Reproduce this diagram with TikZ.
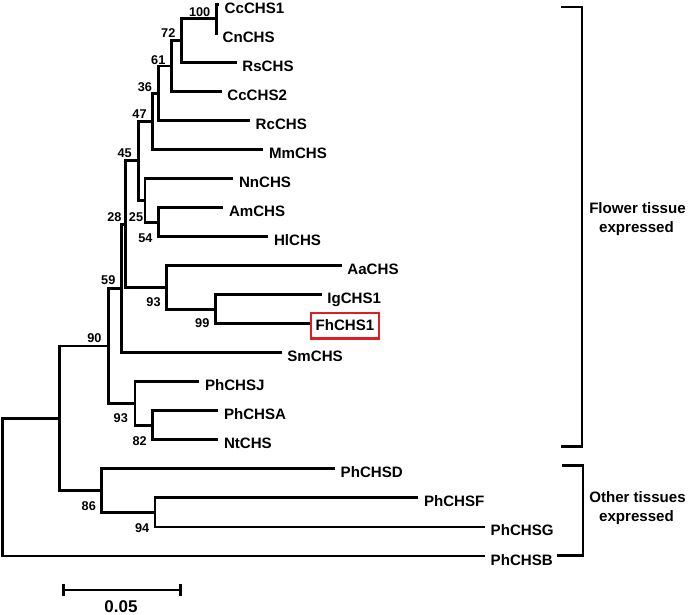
\documentclass[tikz,border=0pt]{standalone}
\usepackage{fontspec}
\setmainfont{Liberation Sans}
\definecolor{boxred}{RGB}{220,30,38}
\newcommand\mkleaf[4]{\coordinate (#1) at (#2,#3); \node[leaflab] (#1l) at (#2+5.5,#3+9) {#4};}
\newcommand\mkbs[4]{\node[bs] (#1) at (#2,#3+4.5) {#4};}
\begin{document}
\begin{tikzpicture}[x=1pt,y=-1pt,
  br/.style={draw=black, line width=2.9pt, line join=miter},
  leaflab/.style={inner sep=0, anchor=base west, font=\fontsize{15.1}{17}\selectfont\bfseries},
  bs/.style={inner sep=0, anchor=base, font=\fontsize{12.7}{14}\selectfont\bfseries},
  grp/.style={inner sep=0, anchor=base, font=\fontsize{15.1}{17}\selectfont\bfseries}]
\useasboundingbox (0,0) rectangle (693,615);

% leaves
\mkleaf{Cc1}{219}{4.26}{CcCHS1}
\mkleaf{Cn}{217}{33.30}{CnCHS}
\mkleaf{Rs}{236.7}{62.34}{RsCHS}
\mkleaf{Cc2}{221.7}{91.38}{CcCHS2}
\mkleaf{Rc}{250}{120.42}{RcCHS}
\mkleaf{Mm}{263.3}{149.46}{MmCHS}
\mkleaf{Nn}{233.3}{178.50}{NnCHS}
\mkleaf{Am}{223.3}{207.54}{AmCHS}
\mkleaf{Hl}{268.3}{236.58}{HlCHS}
\mkleaf{Aa}{341.7}{265.62}{AaCHS}
\mkleaf{Ig}{321.7}{294.66}{IgCHS1}
\coordinate (Fh) at (310,323.70);
\node[draw=boxred, line width=2.4pt, outer sep=0, inner xsep=4.4pt, minimum height=25.6pt,
      text height=10.8pt, text depth=0pt, anchor=west, font=\fontsize{15.1}{17}\selectfont\bfseries]
      (Fhl) at (311.2,325.5) {FhCHS1};
\mkleaf{Sm}{281.7}{352.74}{SmCHS}
\mkleaf{PJ}{199.3}{381.78}{PhCHSJ}
\mkleaf{PA}{218.3}{410.82}{PhCHSA}
\mkleaf{Nt}{218.3}{439.86}{NtCHS}
\mkleaf{PD}{335}{468.90}{PhCHSD}
\mkleaf{PF}{418.3}{497.94}{PhCHSF}
\mkleaf{PG}{485}{526.98}{PhCHSG}
\mkleaf{PB}{485}{556.02}{PhCHSB}

% internal nodes
\coordinate (n100) at (216.7,18.78);
\coordinate (n72) at (181.7,40.56);
\coordinate (n61) at (171.7,65.97);
\coordinate (n36) at (158.8,93.2);
\coordinate (n47) at (152.3,121.33);
\coordinate (n54) at (158.8,222.06);
\coordinate (n25) at (145,200.28);
\coordinate (n45) at (138.3,160.8);
\coordinate (n99) at (215.7,309.18);
\coordinate (n93a) at (166.7,287.4);
\coordinate (n28) at (125.7,224.1);
\coordinate (n59) at (121.7,288.42);
\coordinate (n82) at (152.7,425.34);
\coordinate (n93p) at (135,403.56);
\coordinate (n90) at (108.3,345.99);
\coordinate (n94) at (155,512.46);
\coordinate (n86) at (101.7,490.68);
\coordinate (nA) at (59.3,418.34);
\coordinate (root) at (2.7,487.18);

% branches
\draw[br] (Cc1) -| (n100) |- (Cn);
\draw[br] (n100) -| (n72) |- (Rs);
\draw[br] (n72) -| (n61) |- (Cc2);
\draw[br] (n61) -| (n36) |- (Rc);
\draw[br] (n36) -| (n47) |- (Mm);
\draw[br] (Am) -| (n54) |- (Hl);
\draw[br] (Nn) -| (n25) |- (n54);
\draw[br] (n47) -| (n45) |- (n25);
\draw[br] (Ig) -| (n99) |- (Fh);
\draw[br] (Aa) -| (n93a) |- (n99);
\draw[br] (n45) -| (n28) |- (n93a);
\draw[br] (n28) -| (n59) |- (Sm);
\draw[br] (PA) -| (n82) |- (Nt);
\draw[br] (PJ) -| (n93p) |- (n82);
\draw[br] (n59) -| (n90) |- (n93p);
\draw[br] (PF) -| (n94) |- (PG);
\draw[br] (PD) -| (n86) |- (n94);
\draw[br] (n90) -| (nA) |- (n86);
\draw[br] (nA) -| (root) |- (PB);

% bootstrap values
\mkbs{b100}{199.7}{11.7}{100}
\mkbs{b72}{168.3}{33.3}{72}
\mkbs{b61}{158.3}{60}{61}
\mkbs{b36}{145}{86.7}{36}
\mkbs{b47}{139.5}{114}{47}
\mkbs{b45}{124.6}{153.2}{45}
\mkbs{b28}{114.5}{216.7}{28}
\mkbs{b25}{136}{216.7}{25}
\mkbs{b54}{145.5}{237.5}{54}
\mkbs{b59}{108.3}{280}{59}
\mkbs{b90}{94.5}{338.3}{90}
\mkbs{b93a}{153.5}{301.7}{93}
\mkbs{b99}{202.3}{323}{99}
\mkbs{b93p}{120.8}{418.3}{93}
\mkbs{b82}{139.7}{441}{82}
\mkbs{b86}{88.8}{506}{86}
\mkbs{b94}{142.2}{527.7}{94}

% brackets
\coordinate (fA) at (561,7);
\coordinate (fB) at (582,7);
\coordinate (fC) at (582,446.4);
\coordinate (fD) at (561,446.4);
\draw[br] (fA) -- (fB) -- (fC) -- (fD);
\coordinate (oA) at (562,465.2);
\coordinate (oB) at (583,465.2);
\coordinate (oC) at (583,555.5);
\coordinate (oD) at (557,555.5);
\draw[br] (oA) -- (oB) -- (oC) -- (oD);
\node[grp] (fl1) at (637.5,213.3) {Flower tissue};
\node[grp] (fl2) at (636.5,232.8) {expressed};
\node[grp] (ot1) at (637.5,502) {Other tissues};
\node[grp] (ot2) at (636.5,521.5) {expressed};

% scale bar
\coordinate (sbL) at (63.3,590);
\coordinate (sbR) at (180.7,590);
\draw[br] (sbL) -- (sbR);
\draw[br] (63.3,584) -- (63.3,596);
\draw[br] (180.7,584) -- (180.7,596);
\node[grp, font=\fontsize{17}{19}\selectfont\bfseries] (sbt) at (121,612.7) {0.05};
\end{tikzpicture}
\end{document}
